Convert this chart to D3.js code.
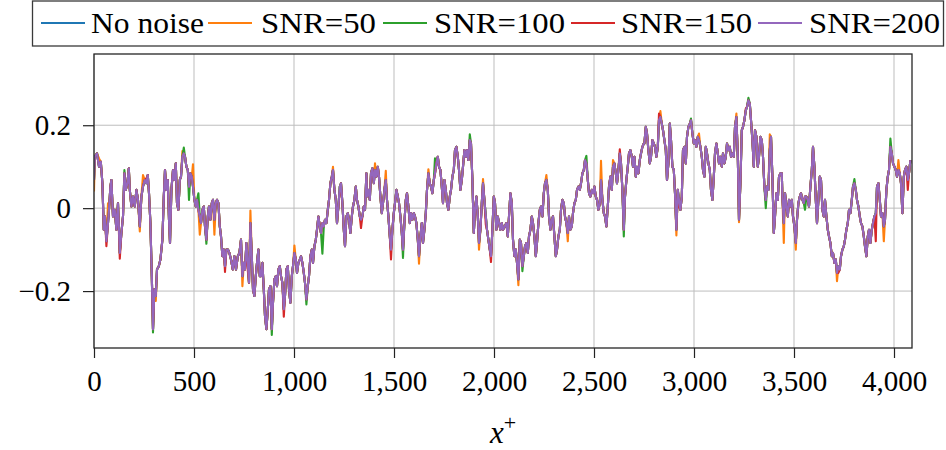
<!DOCTYPE html>
<html><head><meta charset="utf-8">
<script src="https://cdn.jsdelivr.net/npm/d3@7"></script>
<style>body{margin:0;background:#fff} svg{display:block}</style>
</head><body><svg id="c" width="946" height="450"></svg>
<script>
// ---- data: [x+, value] for the noise-free signal ----
const noNoise = [
[0,0.068],[4,0.124],[15,0.132],[25,0.100],[34,0.112],[42,0.060],[49,-0.052],[55,-0.020],[62,-0.080],[70,-0.036],
[75,-0.004],[82,0.052],[87,0.068],[95,-0.020],[104,-0.004],[112,-0.052],[120,0.012],[129,-0.108],[137,-0.060],[145,-0.020],
[152,0.084],[159,0.044],[167,0.060],[174,0.096],[179,0.044],[187,0.004],[195,0.028],[204,0.004],[212,0.044],[220,0.020],
[229,-0.044],[237,0.028],[245,0.052],[254,0.068],[262,0.060],[269,0.080],[275,0.036],[282,-0.036],[289,-0.164],[295,-0.292],
[302,-0.196],[309,-0.212],[315,-0.148],[324,-0.140],[332,-0.124],[342,-0.076],[349,0.028],[355,0.092],[362,0.044],[369,0.068],
[375,-0.028],[380,-0.084],[387,0.044],[395,0.092],[402,0.068],[409,0.108],[415,0.012],[422,-0.004],[429,0.068],[435,0.076],
[442,0.124],[449,0.132],[455,0.124],[462,0.100],[469,0.092],[475,0.052],[482,0.084],[489,0.076],[495,0.052],[502,0.020],
[509,0.004],[515,0.020],[522,-0.004],[529,-0.020],[535,-0.036],[542,-0.004],[549,0.004],[555,-0.044],[562,-0.076],[569,-0.020],
[575,0.004],[582,-0.028],[589,0.012],[595,0.020],[602,-0.028],[609,0.012],[615,0.020],[622,0.012],[629,-0.044],[635,-0.068],
[642,-0.116],[649,-0.100],[655,-0.140],[662,-0.100],[670,-0.100],[677,-0.108],[685,-0.124],[694,-0.148],[702,-0.116],[710,-0.148],
[719,-0.116],[727,-0.108],[735,-0.076],[742,-0.164],[749,-0.132],[755,-0.148],[762,-0.084],[769,-0.132],[775,-0.180],[782,-0.036],
[789,-0.116],[795,-0.196],[802,-0.212],[809,-0.164],[815,-0.132],[822,-0.100],[829,-0.164],[835,-0.164],[842,-0.132],[849,-0.196],
[855,-0.260],[862,-0.292],[869,-0.244],[875,-0.196],[882,-0.188],[889,-0.292],[895,-0.228],[902,-0.172],[909,-0.164],[915,-0.188],
[922,-0.148],[929,-0.140],[935,-0.164],[942,-0.180],[949,-0.244],[955,-0.212],[962,-0.148],[969,-0.140],[975,-0.196],[982,-0.228],
[989,-0.164],[995,-0.140],[1002,-0.108],[1009,-0.124],[1015,-0.156],[1022,-0.132],[1029,-0.124],[1035,-0.116],[1042,-0.132],[1049,-0.156],
[1055,-0.180],[1062,-0.220],[1069,-0.188],[1075,-0.164],[1082,-0.116],[1089,-0.100],[1095,-0.132],[1102,-0.092],[1109,-0.076],[1115,-0.052],
[1122,-0.020],[1129,-0.044],[1135,-0.060],[1142,-0.036],[1149,-0.044],[1155,-0.028],[1162,-0.036],[1169,-0.004],[1175,0.020],[1182,0.060],
[1189,0.076],[1195,0.092],[1202,0.044],[1209,0.020],[1215,-0.036],[1222,0.004],[1229,0.052],[1235,0.060],[1242,0.012],[1249,-0.052],
[1255,-0.092],[1262,-0.020],[1269,-0.012],[1275,-0.028],[1282,-0.060],[1289,-0.020],[1295,0.004],[1302,0.020],[1309,0.052],[1315,0.020],
[1322,0.004],[1329,-0.020],[1335,-0.028],[1342,-0.020],[1349,0.004],[1355,-0.004],[1362,0.084],[1365,0.028],[1372,0.044],[1379,0.020],
[1385,0.084],[1392,0.096],[1399,0.060],[1405,0.092],[1412,0.076],[1419,0.100],[1425,0.076],[1432,0.028],[1439,-0.012],[1445,0.012],
[1452,0.044],[1459,0.068],[1465,0.020],[1472,-0.020],[1479,-0.068],[1485,-0.100],[1492,-0.052],[1499,-0.012],[1505,0.012],[1512,0.044],
[1519,0.028],[1525,0.012],[1532,-0.020],[1539,-0.060],[1545,-0.100],[1552,-0.036],[1559,0.020],[1565,0.036],[1572,0.004],[1579,-0.036],
[1585,-0.012],[1592,-0.028],[1599,-0.012],[1605,-0.020],[1612,-0.036],[1619,-0.076],[1625,-0.116],[1632,-0.068],[1639,-0.036],[1645,-0.084],
[1652,-0.052],[1659,-0.012],[1665,0.044],[1672,0.084],[1679,0.060],[1685,0.052],[1692,0.036],[1699,0.068],[1705,0.084],[1712,0.108],
[1719,0.124],[1725,0.100],[1732,0.092],[1739,0.052],[1745,0.012],[1752,0.068],[1759,0.044],[1765,0.012],[1772,-0.004],[1779,0.028],
[1785,0.044],[1792,0.076],[1799,0.092],[1805,0.140],[1812,0.148],[1819,0.124],[1825,0.092],[1832,0.044],[1839,0.068],[1845,0.100],
[1852,0.140],[1859,0.124],[1865,0.140],[1872,0.116],[1879,0.164],[1885,0.156],[1892,0.068],[1899,-0.060],[1905,-0.004],[1912,0.028],
[1919,-0.020],[1925,-0.084],[1932,-0.052],[1939,0.012],[1945,0.060],[1952,0.020],[1959,-0.020],[1965,-0.052],[1972,-0.076],[1979,-0.100],
[1985,-0.116],[1992,-0.052],[1999,0.028],[2005,0.012],[2012,-0.052],[2019,-0.020],[2025,-0.036],[2032,-0.052],[2039,-0.036],[2045,-0.052],
[2062,-0.036],[2069,-0.068],[2075,-0.020],[2082,0.036],[2089,0.012],[2095,-0.076],[2102,-0.116],[2109,-0.100],[2115,-0.132],[2122,-0.172],
[2129,-0.076],[2135,-0.084],[2142,-0.140],[2149,-0.116],[2155,-0.092],[2162,-0.084],[2169,-0.108],[2175,-0.068],[2182,-0.052],[2189,-0.020],
[2195,-0.036],[2202,-0.068],[2209,-0.116],[2215,-0.084],[2222,-0.036],[2229,-0.004],[2235,0.004],[2242,-0.020],[2249,0.036],[2255,0.060],
[2262,0.068],[2269,0.044],[2275,-0.020],[2282,-0.052],[2289,-0.028],[2295,-0.020],[2302,-0.068],[2309,-0.116],[2315,-0.100],[2322,-0.068],
[2329,-0.052],[2335,-0.004],[2342,0.020],[2349,0.012],[2355,-0.020],[2362,-0.036],[2369,-0.060],[2375,-0.020],[2382,-0.052],[2389,-0.044],
[2395,-0.012],[2402,0.012],[2409,0.020],[2415,0.044],[2422,0.052],[2429,0.044],[2435,0.060],[2442,0.084],[2449,0.092],[2455,0.116],
[2462,0.108],[2469,0.068],[2475,0.036],[2482,0.028],[2489,0.044],[2495,0.036],[2502,0.052],[2509,0.028],[2515,0.020],[2522,-0.004],
[2529,0.012],[2535,0.068],[2542,0.020],[2549,-0.012],[2555,-0.020],[2562,-0.044],[2569,0.004],[2575,0.052],[2582,0.076],[2589,0.044],
[2595,0.100],[2602,0.108],[2609,0.084],[2615,0.060],[2622,0.092],[2629,0.132],[2635,0.108],[2642,0.044],[2649,-0.052],[2655,0.028],
[2662,0.068],[2669,0.100],[2675,0.132],[2682,0.140],[2689,0.124],[2695,0.100],[2702,0.124],[2709,0.076],[2715,0.100],[2722,0.084],
[2729,0.116],[2735,0.132],[2742,0.148],[2749,0.156],[2752,0.156],[2759,0.196],[2765,0.180],[2772,0.140],[2779,0.108],[2785,0.124],
[2792,0.164],[2799,0.156],[2805,0.148],[2812,0.124],[2819,0.148],[2825,0.212],[2832,0.220],[2839,0.204],[2845,0.188],[2852,0.164],
[2859,0.140],[2865,0.068],[2872,0.108],[2879,0.204],[2885,0.164],[2892,0.100],[2899,0.092],[2905,0.036],[2912,-0.052],[2919,0.044],
[2925,0.020],[2932,-0.004],[2939,0.028],[2945,0.140],[2952,0.148],[2959,0.108],[2965,0.172],[2972,0.196],[2979,0.204],[2985,0.212],
[2992,0.180],[2999,0.156],[3005,0.164],[3012,0.148],[3019,0.172],[3025,0.164],[3032,0.148],[3039,0.124],[3045,0.092],[3052,0.076],
[3059,0.148],[3065,0.132],[3072,0.108],[3079,0.092],[3085,0.044],[3092,0.020],[3099,0.076],[3105,0.132],[3112,0.156],[3119,0.132],
[3125,0.108],[3132,0.124],[3139,0.100],[3145,0.132],[3152,0.108],[3159,0.124],[3165,0.156],[3172,0.140],[3179,0.148],[3185,0.124],
[3192,0.132],[3199,0.124],[3205,0.196],[3212,0.220],[3219,0.124],[3225,-0.028],[3232,0.060],[3239,0.188],[3245,0.196],[3252,0.212],
[3259,0.236],[3265,0.244],[3272,0.260],[3279,0.252],[3285,0.212],[3292,0.164],[3299,0.100],[3305,0.188],[3312,0.172],[3319,0.100],
[3325,0.124],[3332,0.172],[3339,0.164],[3345,0.124],[3352,0.052],[3359,0.020],[3365,0.052],[3372,0.044],[3379,0.140],[3385,0.172],
[3392,0.076],[3399,-0.060],[3405,-0.020],[3412,0.036],[3419,0.020],[3425,0.076],[3432,0.084],[3439,0.084],[3442,0.028],[3449,-0.036],
[3455,0.036],[3462,0.004],[3469,-0.020],[3475,0.020],[3482,0.004],[3489,0.020],[3495,-0.020],[3502,-0.044],[3509,-0.084],[3515,-0.028],
[3522,0.012],[3529,0.028],[3535,0.036],[3542,0.020],[3549,0.012],[3555,0.028],[3562,0.028],[3569,0.020],[3575,0.004],[3582,0.052],
[3589,0.092],[3595,0.148],[3602,0.100],[3609,0.020],[3615,-0.036],[3622,0.020],[3629,0.076],[3635,0.068],[3642,-0.004],[3649,-0.020],
[3655,0.020],[3662,-0.020],[3669,-0.052],[3675,-0.068],[3682,-0.084],[3689,-0.116],[3695,-0.108],[3702,-0.132],[3709,-0.124],[3715,-0.156],
[3722,-0.140],[3729,-0.148],[3735,-0.116],[3742,-0.100],[3749,-0.092],[3755,-0.076],[3762,-0.052],[3769,-0.036],[3775,-0.004],[3782,-0.012],
[3789,0.020],[3795,0.052],[3802,0.060],[3809,0.044],[3815,0.020],[3822,0.004],[3829,-0.020],[3835,-0.036],[3842,-0.044],[3849,-0.068],
[3855,-0.092],[3862,-0.116],[3869,-0.068],[3875,-0.052],[3882,-0.084],[3889,-0.052],[3895,-0.036],[3902,-0.020],[3909,-0.012],[3915,0.052],
[3922,0.060],[3929,0.020],[3935,-0.020],[3942,-0.012],[3949,-0.044],[3955,-0.028],[3962,0.044],[3969,0.076],[3975,0.092],[3982,0.148],
[3989,0.132],[3995,0.108],[4002,0.100],[4009,0.092],[4015,0.076],[4022,0.092],[4029,0.084],[4035,0.060],[4042,-0.012],[4049,0.076],
[4055,0.092],[4062,0.100],[4069,0.068],[4075,0.084],[4082,0.116]
];
// ---- noisy series: samples where they visibly differ from the clean signal ----
const snr50Diff = [[0,0.040],[25,0.120],[70,0.012],[229,-0.056],[245,0.080],[309,-0.224],[442,0.138],[495,0.106],[529,-0.064],[602,-0.064],
[742,-0.188],[782,-0.006],[1002,-0.090],[1195,0.100],[1405,0.108],[1459,0.090],[1625,-0.134],[1672,0.094],[1925,-0.100],[1945,0.070],
[2122,-0.186],[2262,0.080],[2369,-0.080],[2535,0.114],[2595,0.116],[2832,0.234],[2912,-0.066],[3025,0.180],[3212,0.228],[3225,-0.034],
[3379,0.178],[3449,-0.084],[3509,-0.100],[3715,-0.176],[3949,-0.080],[4022,0.116]];
const snr100Diff = [[152,0.092],[295,-0.300],[449,0.146],[475,0.020],[522,0.036],[562,-0.086],[889,-0.306],[1062,-0.232],[1142,-0.110],
[1545,-0.120],[1705,0.120],[1879,0.178],[2142,-0.152],[2462,0.126],[2649,-0.068],[2985,0.216],[3272,0.266],[3359,0.000],[3555,-0.004],
[3802,0.070],[3982,0.168]];
const snr150Diff = [[62,-0.092],[129,-0.122],[262,0.072],[655,-0.154],[769,-0.150],[949,-0.262],[1229,0.040],[1335,-0.048],[1485,-0.124],
[1959,-0.040],[1985,-0.130],[2629,0.142],[2825,0.228],[2925,0.004],[3259,0.240],[3722,-0.156],[3909,-0.080],[4069,0.044]];
const snr200Diff = [];

const seriesNames = ["No noise", "SNR=50", "SNR=100", "SNR=150", "SNR=200"];
const seriesDiffs = [[], snr50Diff, snr100Diff, snr150Diff, snr200Diff];
const seriesColors = ["#1f77b4", "#ff7f0e", "#2ca02c", "#d62728", "#9467bd"];
const xTicks = [0, 500, 1000, 1500, 2000, 2500, 3000, 3500, 4000];
const yTicks = [-0.2, 0, 0.2];

// ---- build series ----
const series = seriesNames.map((name, i) => {
  const d = new Map(seriesDiffs[i]);
  return { name, color: seriesColors[i], values: noNoise.map(([x, v]) => [x, d.has(x) ? d.get(x) : v]) };
});

// ---- layout ----
const FONT = "'Liberation Serif','Times New Roman',serif";
const P = { l: 94, r: 912, t: 54, b: 348 };
const svg = d3.select("#c");
const x = d3.scaleLinear().domain([0, 4090]).range([P.l, P.r]);
const y = d3.scaleLinear().domain([-0.3373, 0.3718]).range([P.b, P.t]);

svg.append("defs").append("clipPath").attr("id", "clip")
  .append("rect").attr("x", P.l).attr("y", P.t).attr("width", P.r - P.l).attr("height", P.b - P.t);

// grid
const grid = svg.append("g").attr("stroke", "#bdbdbd").attr("stroke-width", 1);
grid.selectAll("line.gx").data(xTicks).join("line").attr("class", "gx")
  .attr("x1", d => x(d)).attr("x2", d => x(d)).attr("y1", P.t).attr("y2", P.b);
grid.selectAll("line.gy").data(yTicks).join("line").attr("class", "gy")
  .attr("x1", P.l).attr("x2", P.r).attr("y1", d => y(d)).attr("y2", d => y(d));

// lines
const line = d3.line().x(d => x(d[0])).y(d => y(d[1]));
svg.append("g").attr("clip-path", "url(#clip)")
  .selectAll("path").data(series).join("path")
  .attr("d", d => line(d.values)).attr("fill", "none")
  .attr("stroke", d => d.color).attr("stroke-width", 2.1).attr("stroke-linejoin", "round");

// axes
const xAxis = d3.axisBottom(x).tickValues(xTicks).tickFormat(d3.format(",")).tickSize(10).tickSizeOuter(0).tickPadding(12);
const gx = svg.append("g").attr("transform", `translate(0,${P.b})`).call(xAxis);
const yAxis = d3.axisLeft(y).tickValues(yTicks).tickFormat(d => d === 0 ? "0" : d3.format(".1f")(d)).tickSize(11).tickSizeOuter(0).tickPadding(12);
const gy = svg.append("g").attr("transform", `translate(${P.l},0)`).call(yAxis);
[gx, gy].forEach(g => {
  g.select(".domain").remove();
  g.selectAll(".tick line").attr("stroke", "#222").attr("stroke-width", 1.2);
  g.selectAll(".tick text").attr("fill", "#000").style("font-family", FONT).style("font-size", "29px");
});

// frame
svg.append("rect").attr("x", P.l).attr("y", P.t).attr("width", P.r - P.l).attr("height", P.b - P.t)
  .attr("fill", "none").attr("stroke", "#262626").attr("stroke-width", 1.3);

// x label
const xl = svg.append("text").attr("x", 503).attr("y", 443).attr("text-anchor", "middle")
  .style("font-family", FONT).style("font-size", "31px");
xl.append("tspan").style("font-style", "italic").text("x");
xl.append("tspan").attr("dy", -13).style("font-size", "22px").text("+");

// legend
const lg = svg.append("g");
lg.append("rect").attr("x", 32.5).attr("y", 1).attr("width", 911).attr("height", 45)
  .attr("fill", "#fff").attr("stroke", "#3a3a3a").attr("stroke-width", 1.3);
const legLineX = [41, 208, 383, 571, 758];
const legTextX = [91, 261, 434, 621, 809];
const legTextW = [113, 115, 131, 131, 131];
series.forEach((s, i) => {
  lg.append("line").attr("x1", legLineX[i]).attr("x2", legLineX[i] + 44).attr("y1", 23).attr("y2", 23)
    .attr("stroke", s.color).attr("stroke-width", 1.8);
  lg.append("text").attr("x", legTextX[i]).attr("y", 33).attr("textLength", legTextW[i]).attr("lengthAdjust", "spacingAndGlyphs")
    .style("font-family", FONT).style("font-size", "30px").text(s.name);
});
</script></body></html>
